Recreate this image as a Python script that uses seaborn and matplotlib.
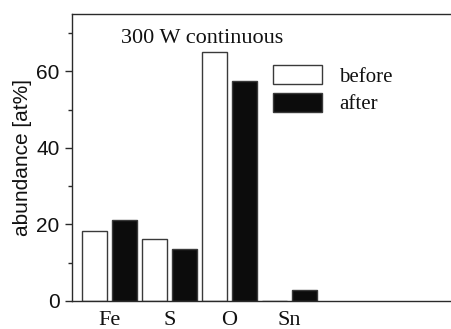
import matplotlib
matplotlib.use("Agg")
import matplotlib.pyplot as plt
import seaborn as sns
import pandas as pd
from matplotlib.patches import Patch
from matplotlib.ticker import MultipleLocator

elements = ["Fe", "S", "O", "Sn"]
before = [18.3, 16.1, 65.0, 0.0]
after = [21.1, 13.5, 57.6, 2.9]
states = ["before", "after"]
title_text = "300 W continuous"
ylabel_text = "abundance [at%]"

df = pd.DataFrame({
    "element": elements * 2,
    "value": before + after,
    "state": ["before"] * len(elements) + ["after"] * len(elements),
})

sns.set_style("ticks")
plt.rcParams["font.family"] = ["Liberation Sans", "DejaVu Sans"]

W, H = 452, 329
fig = plt.figure(figsize=(W / 100, H / 100), dpi=100)
left_px, right_px, top_px, bot_px = 72, 462, 14, 301
ax = fig.add_axes([left_px / W, 1 - bot_px / H, (right_px - left_px) / W, (bot_px - top_px) / H])

palette = {"before": "white", "after": "#0c0c0c"}
sns.barplot(data=df, x="element", y="value", hue="state", hue_order=states,
            order=elements, palette=palette, width=1.0, gap=0.18,
            edgecolor="#3a3a3a", linewidth=1.0, legend=False, ax=ax,
            errorbar=None, saturation=1)

unit = 60.0
x0_px = 109.5
ax.set_xlim((left_px - x0_px) / unit, (right_px - x0_px) / unit)
ax.set_ylim(0, 75)
ax.yaxis.set_major_locator(MultipleLocator(20))
ax.yaxis.set_minor_locator(MultipleLocator(10))

for s in ax.spines.values():
    s.set_color("#2a2a2a")
    s.set_linewidth(1.0)
ax.spines["right"].set_visible(False)

ax.tick_params(axis="y", which="major", direction="out", length=5, width=1.0,
               color="#2a2a2a", labelsize=15, pad=4, labelcolor="#111111")
ax.tick_params(axis="y", which="minor", direction="out", length=3, width=1.0, color="#2a2a2a")
ax.tick_params(axis="x", which="both", length=0, pad=7, labelsize=16, labelcolor="#111111")
for lab in ax.get_xticklabels():
    lab.set_family(["Liberation Serif", "DejaVu Serif"])

ax.set_xlabel("")
ax.set_ylabel(ylabel_text, fontsize=15, color="#111111", labelpad=3)

fig.text(121 / W, 1 - 43 / H, title_text, fontsize=16, va="baseline", ha="left",
         family=["Liberation Serif", "DejaVu Serif"], color="#111111")

handles = [Patch(facecolor=palette[s], edgecolor="#3a3a3a", linewidth=1.0) for s in states]
fs = 15
fs_px = fs * 100 / 72
leg = ax.legend(handles, states, loc="upper left", bbox_to_anchor=(273 / W, 1 - 65 / H),
                bbox_transform=fig.transFigure, frameon=False, borderpad=0, borderaxespad=0,
                handlelength=49 / fs_px, handleheight=21 / fs_px, handletextpad=17 / fs_px,
                labelspacing=0.3, prop={"family": ["Liberation Serif", "DejaVu Serif"], "size": fs})
for t in leg.get_texts():
    t.set_color("#111111")

fig.savefig("out.png", dpi=100)
